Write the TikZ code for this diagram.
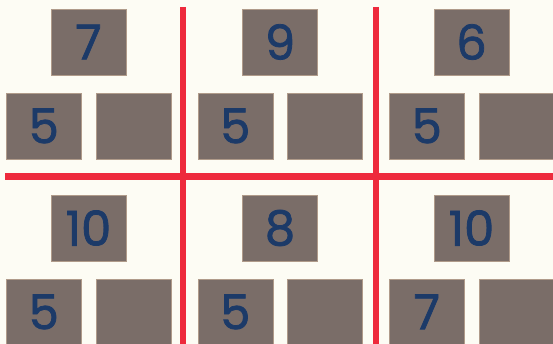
\documentclass[tikz,border=0pt]{standalone}
\usepackage{fontspec}
\setsansfont{Poppins}[FakeBold=1.6]
\usepackage{tikz}
\usetikzlibrary{positioning}
\usepackage{xcolor}
\definecolor{paper}{HTML}{FDFCF4}
\definecolor{slate}{HTML}{7A6D68}
\definecolor{ink}{HTML}{1C3A68}
\definecolor{rule}{HTML}{EE2A3C}
\tikzset{
  tile/.style={fill=slate,draw=slate!85!orange!70!white,line width=0.4pt,minimum width=75pt,
    minimum height=66pt,inner sep=0pt,text=ink,font=\sffamily\fontsize{48}{48}\selectfont},
  divider/.style={draw=rule,line width=6.5pt}
}
\begin{document}
\begin{tikzpicture}[x=1pt,y=-1pt,node distance=17.5pt and 7pt]
        \useasboundingbox[fill=paper] (0,0) rectangle (553,344);
        \draw[divider] (5,176.5)--(553,176.5);
        \draw[divider] (183,7)--(183,344);
        \draw[divider] (376,7)--(376,344);
        \node[tile] (ta) at (88.5,42) {7};
        \node[tile,below left=of ta.south] (la) {5};
        \node[tile,below right=of ta.south] (ra) {};
        \node[tile] (tb) at (280,42) {9};
        \node[tile,below left=of tb.south] (lb) {5};
        \node[tile,below right=of tb.south] (rb) {};
        \node[tile] (tc) at (471.5,42) {6};
        \node[tile,below left=of tc.south] (lc) {5};
        \node[tile,below right=of tc.south] (rc) {};
        \node[tile] (td) at (88.5,228) {10};
        \node[tile,below left=of td.south] (ld) {5};
        \node[tile,below right=of td.south] (rd) {};
        \node[tile] (te) at (280,228) {8};
        \node[tile,below left=of te.south] (le) {5};
        \node[tile,below right=of te.south] (re) {};
        \node[tile] (tf) at (471.5,228) {10};
        \node[tile,below left=of tf.south] (lf) {7};
        \node[tile,below right=of tf.south] (rf) {};
      \end{tikzpicture}
\end{document}
